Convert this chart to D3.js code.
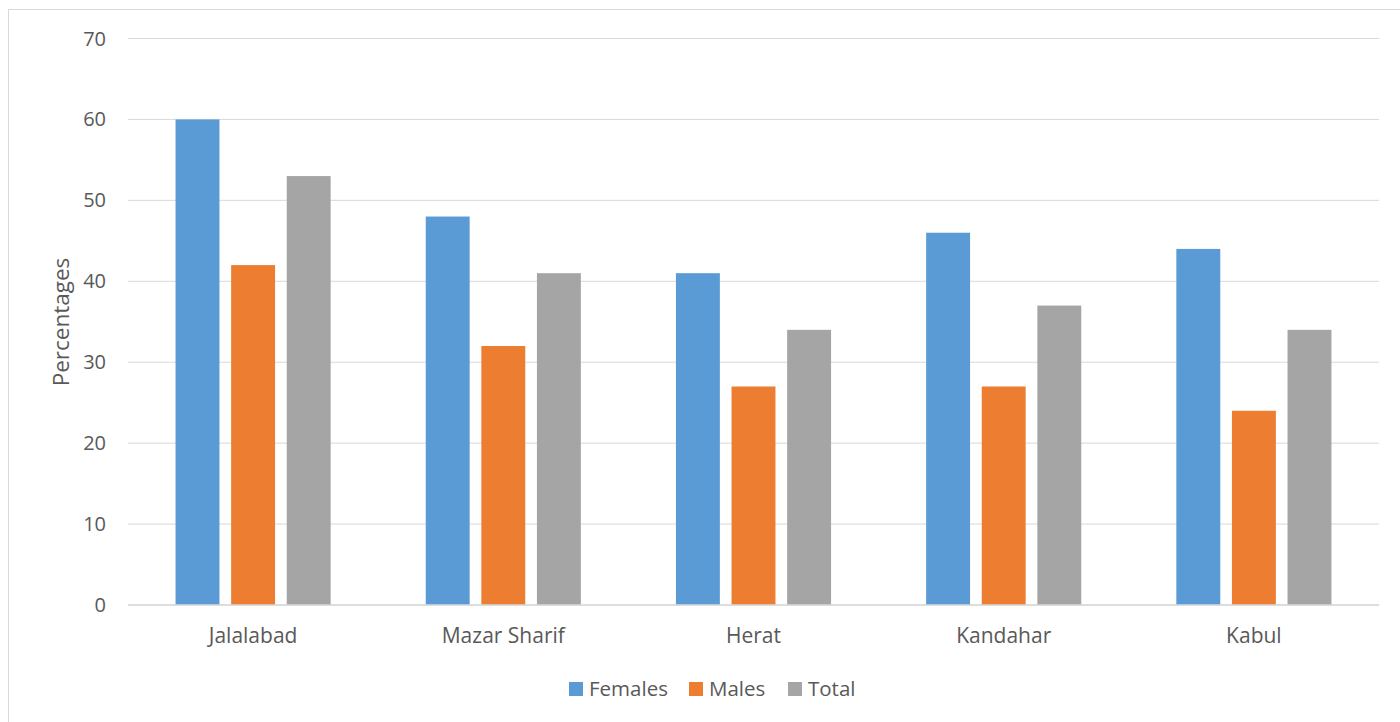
<!DOCTYPE html>
<html><head><meta charset="utf-8">
<script src="https://cdn.jsdelivr.net/npm/d3@7"></script>
<style>body{margin:0;background:#fff}svg{display:block}</style>
</head><body>
<script>
const categories = ["Jalalabad","Mazar Sharif","Herat","Kandahar","Kabul"];
const seriesNames = ["Females","Males","Total"];
const females = [60,48,41,46,44];
const males = [42,32,27,27,24];
const total = [53,41,34,37,34];
const yTicks = [0,10,20,30,40,50,60,70];
const colors = ["#5B9BD5","#ED7D31","#A5A5A5"];
const seriesValues = [females, males, total];

(function(){
const W=1400,H=722;
const svg=d3.select("body").append("svg").attr("width",W).attr("height",H);
svg.append("rect").attr("x",8.5).attr("y",9.5).attr("width",1400).attr("height",720)
  .attr("fill","#fff").attr("stroke","#D9D9D9").attr("stroke-width",1);

const pLeft=128,pRight=1379,pTop=38.5,pBottom=605;
const x=d3.scaleBand().domain(categories).range([pLeft,pRight]).paddingInner(0.38).paddingOuter(0.19);
const x1=d3.scaleBand().domain(seriesNames).range([0,x.bandwidth()]).paddingInner(0.21);
const y=d3.scaleLinear().domain([0,70]).range([pBottom,pTop]);
const font="'Open Sans', sans-serif";

const g=svg.append("g");
g.selectAll("line.grid").data(yTicks).join("line")
 .attr("x1",pLeft).attr("x2",pRight).attr("y1",d=>y(d)).attr("y2",d=>y(d))
 .attr("stroke","#D9D9D9").attr("stroke-width",1);
g.selectAll("text.yl").data(yTicks).join("text")
 .attr("x",106).attr("y",d=>y(d)).attr("dy","0.35em").attr("text-anchor","end")
 .attr("font-family",font).attr("font-size",20).attr("fill","#595959").text(d=>d);

seriesNames.forEach((s,si)=>{
  g.selectAll("rect.s"+si).data(categories).join("rect").attr("class","s"+si)
   .attr("x",c=>x(c)+x1(s)).attr("width",x1.bandwidth())
   .attr("y",(c,i)=>y(seriesValues[si][i])).attr("height",(c,i)=>pBottom-y(seriesValues[si][i]))
   .attr("fill",colors[si]);
});
g.append("line").attr("x1",pLeft).attr("x2",pRight).attr("y1",pBottom).attr("y2",pBottom)
 .attr("stroke","#D9D9D9").attr("stroke-width",1.5);
g.selectAll("text.xl").data(categories).join("text")
 .attr("x",c=>x(c)+x.bandwidth()/2).attr("y",636).attr("dy","0.35em").attr("text-anchor","middle")
 .attr("font-family",font).attr("font-size",21).attr("fill","#595959").text(c=>c);
g.append("text").attr("transform","translate(61,322) rotate(-90)").attr("text-anchor","middle")
 .attr("dy","0.35em").attr("font-family",font).attr("font-size",22.5).attr("fill","#595959").text("Percentages");
const legX=[569,689,788];
seriesNames.forEach((s,i)=>{
  g.append("rect").attr("x",legX[i]).attr("y",682).attr("width",14).attr("height",14).attr("fill",colors[i]);
  g.append("text").attr("x",legX[i]+20).attr("y",689).attr("dy","0.35em")
   .attr("font-family",font).attr("font-size",20.5).attr("fill","#595959").text(s);
});
})();
</script>
</body></html>
